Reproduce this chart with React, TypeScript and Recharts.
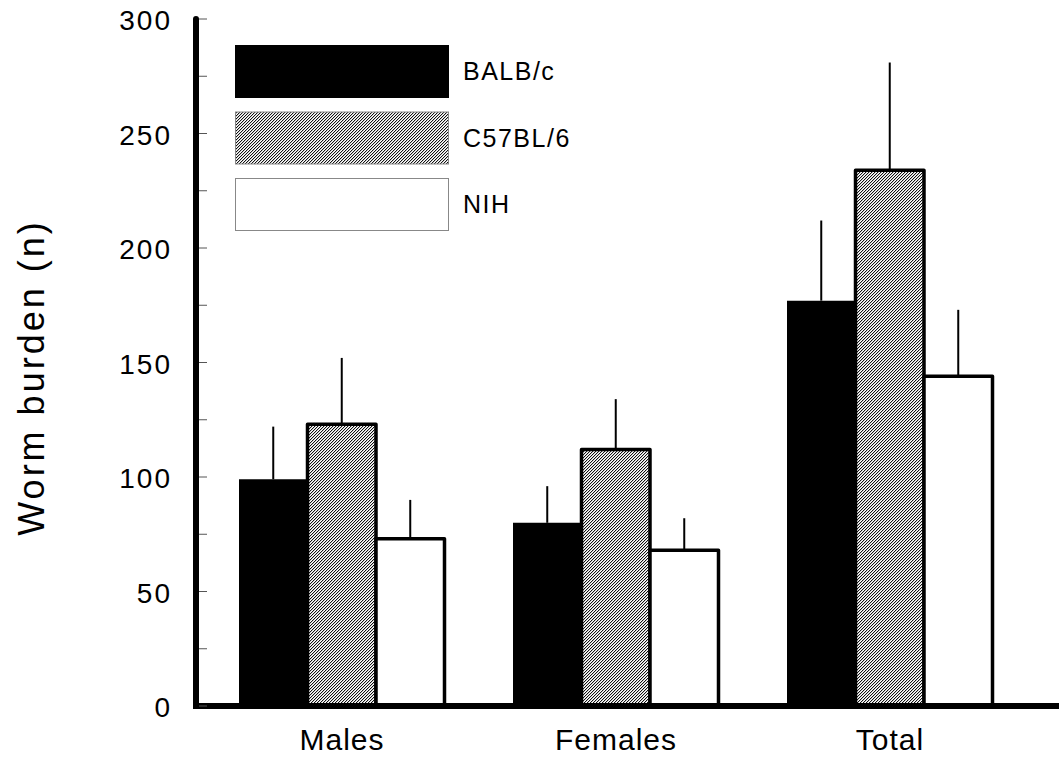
import { Bar, BarChart, ErrorBar, XAxis, YAxis } from "recharts";

const categories = ["Males", "Females", "Total"];
const balbMeans = [99, 80, 177];
const c57Means = [123, 112, 234];
const nihMeans = [73, 68, 144];
const balbErr = [23, 16, 35];
const c57Err = [29, 22, 47];
const nihErr = [17, 14, 29];
const yTicks = [0, 25, 50, 75, 100, 125, 150, 175, 200, 225, 250, 275, 300];
const seriesNames = ["BALB/c", "C57BL/6", "NIH"];

const data = categories.map((name, i) => ({
  name,
  balb: balbMeans[i],
  c57: c57Means[i],
  nih: nihMeans[i],
  balbErr: [0, balbErr[i]],
  c57Err: [0, c57Err[i]],
  nihErr: [0, nihErr[i]],
}));

const FONT = "'Liberation Sans', Arial, sans-serif";
const TICK_GAP = 24;

function YTick(props: any) {
  const { x, y, payload } = props;
  const ax = x + TICK_GAP;
  return (
    <g>
      <line x1={ax + 3} x2={ax + 11} y1={y} y2={y} stroke="#555" strokeWidth={1} />
      {payload.value % 50 === 0 && (
        <text
          x={x}
          y={y}
          dy={11}
          textAnchor="end"
          fontSize={28}
          letterSpacing={2}
          fontFamily={FONT}
          fill="#000"
        >
          {payload.value}
        </text>
      )}
    </g>
  );
}

function YLabel(props: any) {
  const { viewBox } = props;
  const cy = viewBox.y + viewBox.height / 2 + 15;
  const cx = 44;
  return (
    <text
      x={cx}
      y={cy}
      transform={`rotate(-90, ${cx}, ${cy})`}
      textAnchor="middle"
      fontSize={36}
      letterSpacing={3}
      fontFamily={FONT}
      fill="#000"
    >
      Worm burden (n)
    </text>
  );
}

// fine 45° hatch: one dark pixel per row, shifting each row
function HatchDef({ id }: { id: string }) {
  return (
    <pattern id={id} patternUnits="userSpaceOnUse" width={3} height={3}>
      <rect width={3} height={3} fill="#fff" />
      <rect x={2} y={0} width={1} height={1} fill="#111" />
      <rect x={1} y={1} width={1} height={1} fill="#111" />
      <rect x={0} y={2} width={1} height={1} fill="#111" />
      <rect x={0} y={0} width={1} height={1} fill="#c8c8c8" />
      <rect x={2} y={1} width={1} height={1} fill="#c8c8c8" />
      <rect x={1} y={2} width={1} height={1} fill="#c8c8c8" />
    </pattern>
  );
}

function ChartLegend() {
  const fills = ["#000", "url(#hatchLegend)", "#fff"];
  const strokes = ["#000", "#888", "#888"];
  return (
    <svg width={340} height={190}>
      <defs>
        <HatchDef id="hatchLegend" />
      </defs>
      {seriesNames.map((s, i) => (
        <g key={s}>
          <rect
            x={0.5}
            y={0.5 + i * 66.5}
            width={213}
            height={52}
            fill={fills[i]}
            stroke={strokes[i]}
            strokeWidth={1}
          />
          <text
            x={228}
            y={26 + i * 66.5}
            dy={9}
            fontSize={25}
            letterSpacing={1.5}
            fontFamily={FONT}
            fill="#000"
          >
            {s}
          </text>
        </g>
      ))}
    </svg>
  );
}

export default function App() {
  return (
    <div style={{ position: "absolute", left: 0, top: 0, width: 1059, height: 765, background: "#fff" }}>
      <BarChart
        width={1059}
        height={765}
        data={data}
        margin={{ top: 19, right: 0, bottom: 0, left: 0 }}
        barGap={0}
        barSize={68.5}
      >
        <defs>
          <HatchDef id="hatchBar" />
        </defs>
        <XAxis
          dataKey="name"
          padding={{ left: 9, right: 32 }}
          height={59}
          tickLine={false}
          tickSize={0}
          tickMargin={23}
          axisLine={{ stroke: "#000", strokeWidth: 6, strokeLinecap: "square" }}
          tick={{ fontSize: 30, fill: "#000", fontFamily: FONT, letterSpacing: 1 }}
        />
        <YAxis
          width={196}
          domain={[0, 300]}
          ticks={yTicks}
          interval={0}
          tickLine={false}
          tickSize={0}
          tickMargin={TICK_GAP}
          axisLine={{ stroke: "#000", strokeWidth: 6, strokeLinecap: "round" }}
          tick={<YTick />}
          label={<YLabel />}
        />
        <Bar dataKey="balb" name="BALB/c" fill="#000" isAnimationActive={false}>
          <ErrorBar dataKey="balbErr" width={0} stroke="#000" strokeWidth={2} direction="y" />
        </Bar>
        <Bar
          dataKey="c57"
          name="C57BL/6"
          fill="url(#hatchBar)"
          stroke="#000"
          strokeWidth={3.5}
          strokeLinejoin="round"
          isAnimationActive={false}
        >
          <ErrorBar dataKey="c57Err" width={0} stroke="#000" strokeWidth={2} direction="y" />
        </Bar>
        <Bar
          dataKey="nih"
          name="NIH"
          fill="#fff"
          stroke="#000"
          strokeWidth={3.5}
          strokeLinejoin="round"
          isAnimationActive={false}
        >
          <ErrorBar dataKey="nihErr" width={0} stroke="#000" strokeWidth={2} direction="y" />
        </Bar>
      </BarChart>
      <div style={{ position: "absolute", left: 235, top: 45 }}>
        <ChartLegend />
      </div>
    </div>
  );
}
